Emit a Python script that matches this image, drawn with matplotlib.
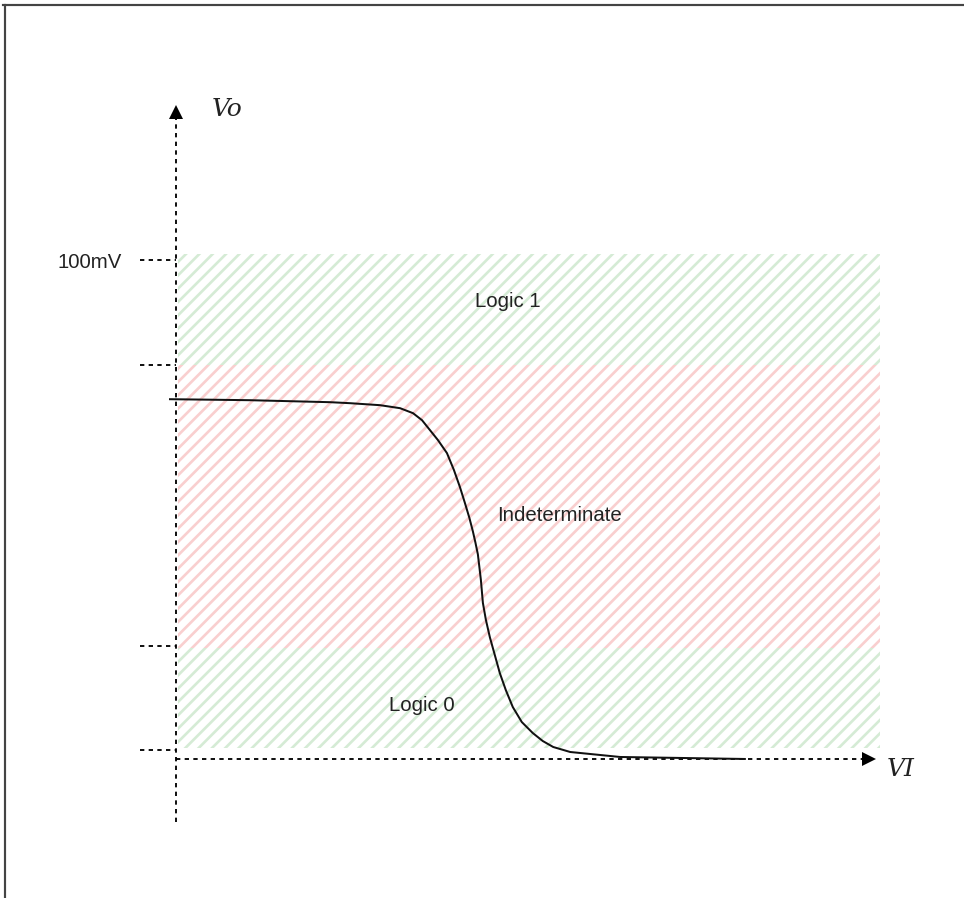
import matplotlib.pyplot as plt
from matplotlib.lines import Line2D

# output voltage regions (mV)
band_names = ["Logic 1", "Indeterminate", "Logic 0"]
band_lo = [79.0, 22.2, 2.2]
band_hi = [101.2, 79.0, 22.2]
band_colors = ["#d5ebd5", "#f9cfcf", "#d5ebd5"]
band_label_x = [66.5, 76.8, 49.3]
band_label_y = [91.6, 48.7, 10.8]

# dashed tick marks on the Vo axis
tick_vals = [100, 79.0, 22.6, 1.8]

# transfer curve
curve_vi = [-1.2, 14.8, 30.9, 34.9, 40.9, 44.9, 47.5, 49.3, 50.9, 52.5, 54.3,
            55.7, 56.9, 57.9, 58.8, 59.5, 60.0, 60.5, 61.1, 61.5, 62.1, 62.9,
            63.9, 64.9, 66.1, 67.5, 69.3, 71.5, 73.5, 75.6, 79.0, 89.0, 114.0]
curve_vo = [72.1, 71.9, 71.5, 71.3, 70.9, 70.3, 69.3, 67.9, 65.9, 63.9, 61.3,
            57.9, 54.5, 51.3, 48.3, 45.6, 43.4, 41.0, 35.9, 31.3, 27.9, 24.4,
            20.8, 17.2, 13.8, 10.4, 7.4, 5.2, 3.6, 2.4, 1.4, 0.4, 0.0]

plt.rcParams['hatch.linewidth'] = 1.6
plt.rcParams['lines.scale_dashes'] = False

fig = plt.figure(figsize=(964 / 120, 898 / 120), dpi=120)
ax = fig.add_axes([0, 0, 1, 1])
ax.set_xlim(-35.27, 157.92)
ax.set_ylim(-27.86, 152.1)
ax.axis('off')

# hatched regions
for lo, hi, c in zip(band_lo, band_hi, band_colors):
    ax.fill_between([0.4, 141.1], lo, hi, facecolor='none', edgecolor=c,
                    hatch='///', linewidth=0)

dash = (0, (2.6, 2.6))
# axes
ax.plot([0, 0], [-12.6, 129], color='black', lw=1.1, linestyle=dash)
ax.plot([0, 138], [0, 0], color='black', lw=1.1, linestyle=dash)
ax.plot(0, 129.6, marker='^', color='black', ms=8, mew=0)
ax.plot(138.8, 0, marker='>', color='black', ms=8, mew=0)
ax.hlines(tick_vals, -7.2, 0, colors='black', lw=1.1, linestyles=[dash])

ax.plot(curve_vi, curve_vo, color='#111111', lw=1.2)

for name, x, y in zip(band_names, band_label_x, band_label_y):
    ax.text(x, y, name, ha='center', va='center', fontsize=12.2,
            family='Liberation Sans', color='#222222')

ax.text(-10.8, 99.4, "100mV", ha='right', va='center', fontsize=12.2,
        family='Liberation Sans', color='#222222')
ax.text(7.2, 130.1, "Vo", ha='left', va='center', fontsize=15,
        family='DejaVu Serif', style='italic', color='#222222')
ax.text(142.5, -2.2, "VI", ha='left', va='center', fontsize=15,
        family='DejaVu Serif', style='italic', color='#222222')

# page border at top and left
fig.add_artist(Line2D([3 / 964, 1], [1 - 5 / 898] * 2, color='#444444', lw=1.3))
fig.add_artist(Line2D([5 / 964] * 2, [0, 1 - 5 / 898], color='#444444', lw=1.3))

fig.savefig('out.png', dpi=120)
